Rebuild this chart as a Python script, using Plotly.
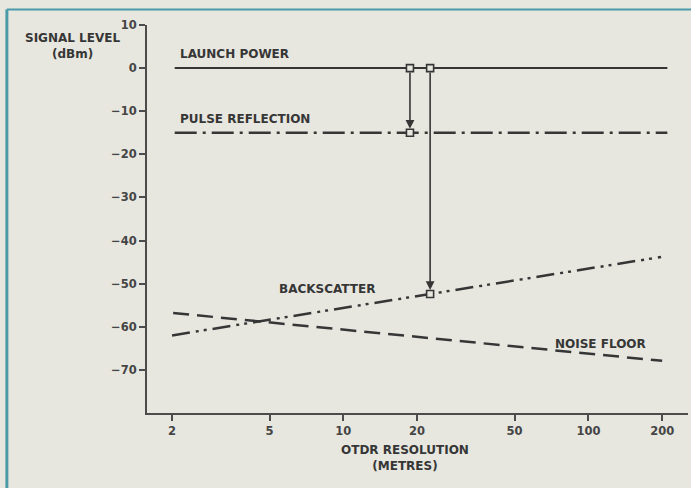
import math
import plotly.graph_objects as go

# OTDR resolution (metres) and signal levels (dBm)
launch_x = [2.05, 210]
launch_y = [0, 0]

pulse_x = [2.05, 210]
pulse_y = [-15, -15]

backscatter_x = [2.0, 198]
backscatter_y = [-62, -43.8]

noise_x = [2.02, 200]
noise_y = [-56.8, -67.9]

# measurement points: launch -> reflection, launch -> backscatter
reflect_res = 18.7
scatter_res = 22.6
reflect_level = -15
scatter_level = -52.4
launch_level = 0

x_ticks = [2, 5, 10, 20, 50, 100, 200]
y_ticks = [10, 0, -10, -20, -30, -40, -50, -60, -70]

INK = "#363636"
AXIS = "#4c4c4c"
BG = "#e7e7e0"
FONT = dict(family="DejaVu Sans", size=12, color=INK, weight="bold")
TICKFONT = dict(family="DejaVu Sans", size=11.5, color="#454545", weight="bold")

fig = go.Figure()

fig.add_trace(go.Scatter(x=launch_x, y=launch_y, mode="lines",
                         line=dict(color=INK, width=2)))
fig.add_trace(go.Scatter(x=pulse_x, y=pulse_y, mode="lines",
                         line=dict(color=INK, width=2.5, dash="22px,6px,3px,6px")))
fig.add_trace(go.Scatter(x=backscatter_x, y=backscatter_y, mode="lines",
                         line=dict(color=INK, width=2.5,
                                   dash="18px,6px,3px,5px,3px,6px")))
fig.add_trace(go.Scatter(x=noise_x, y=noise_y, mode="lines",
                         line=dict(color=INK, width=2.5, dash="16px,8px")))

# vertical arrows from launch level to each return
for xr, yr in [(reflect_res, reflect_level), (scatter_res, scatter_level)]:
    fig.add_annotation(x=math.log10(xr), y=yr, ax=math.log10(xr), ay=launch_level,
                       xref="x", yref="y", axref="x", ayref="y", text="",
                       showarrow=True, arrowhead=2, arrowsize=1.1, arrowwidth=1.6,
                       arrowcolor=INK, standoff=4, startstandoff=3)

fig.add_trace(go.Scatter(
    x=[reflect_res, reflect_res, scatter_res, scatter_res],
    y=[launch_level, reflect_level, launch_level, scatter_level],
    mode="markers",
    marker=dict(symbol="square", size=7, color=BG, line=dict(color=INK, width=1.6))))

labels = [
    ("LAUNCH POWER", 2.12, launch_level, "bottom", 5),
    ("PULSE REFLECTION", 2.12, reflect_level, "bottom", 5),
    ("BACKSCATTER", 5.37, -51.2, "middle", 0),
    ("NOISE FLOOR", 71.8, -64.0, "middle", 0),
]
for txt, x, y, ya, ys in labels:
    fig.add_annotation(x=math.log10(x), y=y, xref="x", yref="y", text=txt,
                       showarrow=False, xanchor="left", yanchor=ya, yshift=ys,
                       font=FONT)

fig.add_annotation(x=-0.137, y=0.946, xref="paper", yref="paper",
                   text="SIGNAL LEVEL<br>(dBm)", showarrow=False,
                   xanchor="center", yanchor="middle", font=FONT)
fig.add_annotation(x=0.477, y=-0.115, xref="paper", yref="paper",
                   text="OTDR RESOLUTION<br>(METRES)", showarrow=False,
                   xanchor="center", yanchor="middle", font=FONT)

# page frame
fig.add_shape(type="line", xref="paper", yref="paper",
              x0=-0.259, x1=-0.259, y0=-0.2, y1=1.04,
              line=dict(color="#4a9aa8", width=3))
fig.add_shape(type="line", xref="paper", yref="paper",
              x0=-0.259, x1=1.01, y0=1.04, y1=1.04,
              line=dict(color="#4a9aa8", width=2))

fig.update_xaxes(type="log", range=[math.log10(1.58), math.log10(255)],
                 tickvals=x_ticks, ticktext=[str(v) for v in x_ticks],
                 showline=True, linecolor=AXIS, linewidth=2,
                 ticks="outside", ticklen=6, tickwidth=1.5, tickcolor=AXIS,
                 showgrid=False, zeroline=False, tickfont=TICKFONT)
fig.update_yaxes(range=[-80, 10], tickvals=y_ticks,
                 showline=True, linecolor=AXIS, linewidth=2,
                 ticks="outside", ticklen=6, tickwidth=1.5, tickcolor=AXIS,
                 showgrid=False, zeroline=False, tickfont=TICKFONT)

fig.update_layout(width=691, height=488, showlegend=False,
                  margin=dict(l=147, r=3, t=25, b=75),
                  paper_bgcolor=BG, plot_bgcolor=BG, font=FONT)

fig.write_html("out.html")
